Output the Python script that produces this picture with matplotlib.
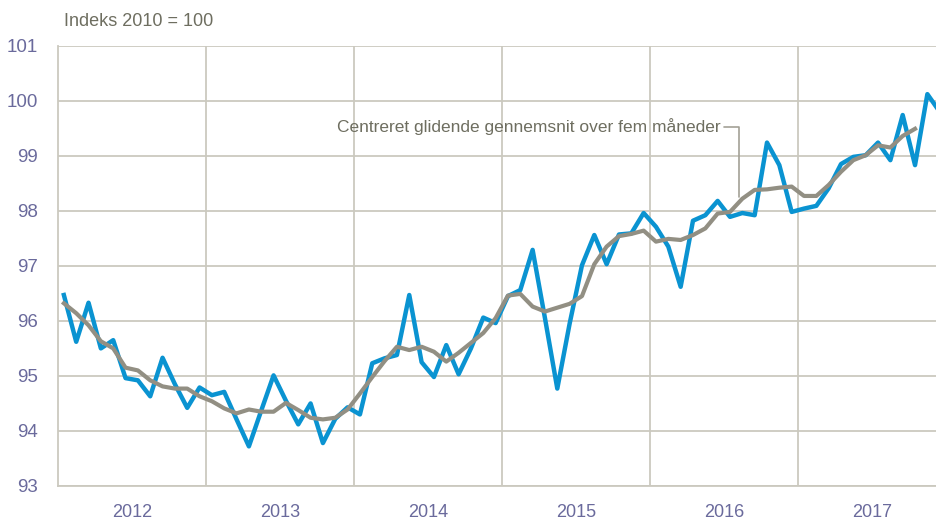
import numpy as np
import matplotlib
matplotlib.use("Agg")
from matplotlib import pyplot as plt

# monthly index, Jan 2012 - Dec 2017
index = [96.47, 95.62, 96.33, 95.50, 95.65, 94.96, 94.92, 94.63, 95.33, 94.85, 94.42, 94.79,
         94.65, 94.71, 94.21, 93.72, 94.37, 95.01, 94.55, 94.12, 94.50, 93.78, 94.22, 94.43,
         94.30, 95.23, 95.32, 95.38, 96.47, 95.25, 94.98, 95.56, 95.03, 95.50, 96.06, 95.96,
         96.45, 96.56, 97.29, 96.05, 94.77, 95.95, 97.01, 97.56, 97.03, 97.57, 97.59, 97.96,
         97.71, 97.35, 96.62, 97.82, 97.92, 98.18, 97.89, 97.96, 97.92, 99.24, 98.83, 97.98,
         98.04, 98.09, 98.41, 98.85, 98.98, 99.01, 99.24, 98.92, 99.74, 98.83, 100.12, 99.80]

# centred 5-month moving average, Jan 2012 - Oct 2017
avg5 = [96.32, 96.14, 95.92, 95.63, 95.50, 95.15, 95.10, 94.92, 94.81, 94.77, 94.77, 94.63,
        94.54, 94.41, 94.32, 94.39, 94.35, 94.35, 94.51, 94.38, 94.24, 94.21, 94.24, 94.39,
        94.68, 94.98, 95.27, 95.53, 95.47, 95.53, 95.44, 95.26, 95.42, 95.60, 95.78, 96.05,
        96.46, 96.49, 96.26, 96.17, 96.24, 96.31, 96.45, 97.03, 97.35, 97.54, 97.58, 97.64,
        97.44, 97.49, 97.47, 97.56, 97.68, 97.95, 97.98, 98.22, 98.38, 98.39, 98.42, 98.44,
        98.27, 98.27, 98.47, 98.71, 98.92, 99.01, 99.19, 99.15, 99.36, 99.49]

years = ["2012", "2013", "2014", "2015", "2016", "2017"]
label = "Centreret glidende gennemsnit over fem måneder"

plt.rcParams["font.family"] = ["Liberation Sans", "DejaVu Sans"]

BLUE = "#0a93d1"
GREY = "#928f83"
GRID = "#cbc9bf"
TICK = "#6a6a9c"
TXT = "#6e6e60"

fig = plt.figure(figsize=(9.36, 5.2), dpi=100)
ax = fig.add_axes([57.7 / 936, 1 - 486 / 520, 1 - 57.7 / 936, (486 - 45.7) / 520])

x = np.arange(len(index)) + 0.5
xa = np.arange(len(avg5)) + 0.5
ax.plot(x, index, color=BLUE, lw=3.2, zorder=3)
ax.plot(xa, avg5, color=GREY, lw=3.0, zorder=4)

ax.set_xlim(0, 71.2)
ax.set_ylim(93, 101)
ax.set_yticks(np.arange(93, 102, 1))
ax.set_xticks(np.arange(12, 72, 12))
ax.set_xticklabels([])
ax.set_xticks(np.arange(6, 72, 12), minor=True)
ax.set_xticklabels(years, minor=True)
ax.tick_params(axis="x", which="both", length=0, pad=13, labelsize=13, labelcolor=TICK)
ax.tick_params(axis="y", length=0, pad=14, labelsize=13.5, labelcolor=TICK)
ax.grid(True, which="major", color=GRID, lw=1.3)
ax.set_axisbelow(True)
for s in ["top", "right"]:
    ax.spines[s].set_visible(False)
for s in ["left", "bottom"]:
    ax.spines[s].set_color(GRID)
    ax.spines[s].set_linewidth(1.3)

fig.text(64 / 936, 1 - 22 / 520, "Indeks 2010 = 100", fontsize=13, color=TXT,
         ha="left", va="center")

ax.annotate(label, xy=(55.26, 98.25), xytext=(53.7, 99.53),
            ha="right", va="center", fontsize=12.5, color=TXT,
            arrowprops=dict(arrowstyle="-", color="#a3a196", lw=1.2,
                            shrinkA=1, shrinkB=0, relpos=(1, 0.5),
                            connectionstyle="angle,angleA=0,angleB=90,rad=0"))

fig.savefig("out.png", dpi=100)
